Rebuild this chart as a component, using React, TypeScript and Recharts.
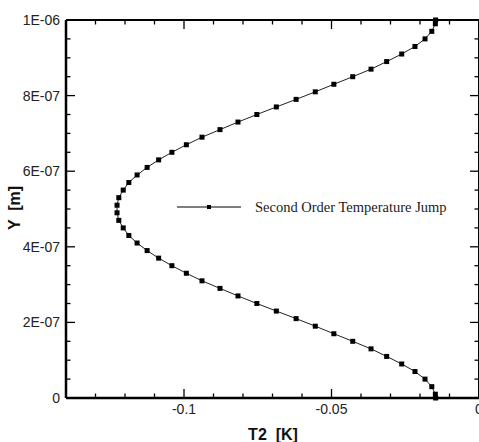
import React from "react";
import { ScatterChart, Scatter, XAxis, YAxis, ReferenceLine } from "recharts";

// wall-normal position [m] (cell centres plus both walls)
const yValues = [
  0, 1e-8, 3e-8, 5e-8, 7e-8, 9e-8, 1.1e-7, 1.3e-7, 1.5e-7, 1.7e-7, 1.9e-7,
  2.1e-7, 2.3e-7, 2.5e-7, 2.7e-7, 2.9e-7, 3.1e-7, 3.3e-7, 3.5e-7, 3.7e-7,
  3.9e-7, 4.1e-7, 4.3e-7, 4.5e-7, 4.7e-7, 4.9e-7, 5.1e-7, 5.3e-7, 5.5e-7,
  5.7e-7, 5.9e-7, 6.1e-7, 6.3e-7, 6.5e-7, 6.7e-7, 6.9e-7, 7.1e-7, 7.3e-7,
  7.5e-7, 7.7e-7, 7.9e-7, 8.1e-7, 8.3e-7, 8.5e-7, 8.7e-7, 8.9e-7, 9.1e-7,
  9.3e-7, 9.5e-7, 9.7e-7, 9.9e-7, 1e-6,
];

// T2 [K]
const t2Values = [
  -0.0147, -0.0148, -0.016, -0.0183, -0.0217, -0.0262, -0.0313, -0.0366,
  -0.0428, -0.0492, -0.0555, -0.062, -0.0687, -0.0753, -0.0817, -0.0878,
  -0.0939, -0.0992, -0.1041, -0.1086, -0.1125, -0.1159, -0.1187, -0.1206,
  -0.1221, -0.1227, -0.1227, -0.1221, -0.1206, -0.1187, -0.1159, -0.1125,
  -0.1086, -0.1041, -0.0992, -0.0939, -0.0878, -0.0817, -0.0753, -0.0687,
  -0.062, -0.0555, -0.0492, -0.0428, -0.0366, -0.0313, -0.0262, -0.0217,
  -0.0183, -0.016, -0.0148, -0.0147,
];

const xTicks = [
  -0.14, -0.13, -0.12, -0.11, -0.1, -0.09, -0.08, -0.07, -0.06, -0.05, -0.04,
  -0.03, -0.02, -0.01, 0,
];
const xMajorTicks = [-0.1, -0.05, 0];
const xTickLabels = ["-0.1", "-0.05", "0"];

const yTicks = [
  0, 5e-8, 1e-7, 1.5e-7, 2e-7, 2.5e-7, 3e-7, 3.5e-7, 4e-7, 4.5e-7, 5e-7,
  5.5e-7, 6e-7, 6.5e-7, 7e-7, 7.5e-7, 8e-7, 8.5e-7, 9e-7, 9.5e-7, 1e-6,
];
const yMajorTicks = [0, 2e-7, 4e-7, 6e-7, 8e-7, 1e-6];
const yTickLabels = ["0", "2E-07", "4E-07", "6E-07", "8E-07", "1E-06"];

const seriesName = "Second Order Temperature Jump";

const data = yValues.map((y, i) => ({ y, t2: t2Values[i] }));

// plot box follows from the margins and axis sizes below
const W = 479;
const H = 442;
const MARGIN = { top: 20, right: 0, bottom: 0, left: 0 };
const X_AXIS_H = 44;
const Y_AXIS_W = 66;
const PLOT_TOP = MARGIN.top;
const PLOT_RIGHT = W - MARGIN.right;

const majorIndex = (v: number, majors: number[], tol: number) =>
  majors.findIndex((m) => Math.abs(m - v) < tol);

const sans = "Arial, 'Liberation Sans', sans-serif";

const XTick = (props: any) => {
  const { x, y, payload } = props;
  const idx = majorIndex(payload.value, xMajorTicks, 1e-6);
  const len = idx >= 0 ? 9 : 4.5;
  return (
    <g>
      <path d={`M${x},${y}V${y - len}`} stroke="#000" strokeWidth={1.3} fill="none" />
      <path d={`M${x},${PLOT_TOP}V${PLOT_TOP + len}`} stroke="#000" strokeWidth={1.3} fill="none" />
      {idx >= 0 && (
        <text x={x} y={y + 15.5} textAnchor="middle" fontFamily={sans} fontSize={14} fill="#222">
          {xTickLabels[idx]}
        </text>
      )}
    </g>
  );
};

const YTick = (props: any) => {
  const { x, y, payload } = props;
  const idx = majorIndex(payload.value, yMajorTicks, 1e-10);
  const len = idx >= 0 ? 9 : 4.5;
  return (
    <g>
      <path d={`M${x},${y}H${x + len}`} stroke="#000" strokeWidth={1.3} fill="none" />
      <path d={`M${PLOT_RIGHT},${y}H${PLOT_RIGHT - len}`} stroke="#000" strokeWidth={1.3} fill="none" />
      {idx >= 0 && (
        <text x={x - 6} y={y + 5} textAnchor="end" fontFamily={sans} fontSize={14} fill="#222">
          {yTickLabels[idx]}
        </text>
      )}
    </g>
  );
};

const SquareDot = (props: any) => (
  <rect x={props.cx - 2.5} y={props.cy - 2.5} width={5} height={5} fill="#000" />
);

export default function App() {
  return (
    <div style={{ position: "absolute", left: 0, top: 0, width: W, height: H, background: "#fff" }}>
      <ScatterChart width={W} height={H} margin={MARGIN}>
        <XAxis
          type="number"
          dataKey="t2"
          domain={[-0.14, 0]}
          ticks={xTicks}
          interval={0}
          tick={XTick}
          tickLine={false}
          tickSize={0}
          tickMargin={0}
          height={X_AXIS_H}
          stroke="#000"
          strokeWidth={2.5}
          label={{
            value: "T2  [K]",
            content: () => (
              <text
                x={273}
                y={440}
                textAnchor="middle"
                fontFamily={sans}
                fontWeight="bold"
                fontSize={16}
                fill="#111"
                style={{ whiteSpace: "pre" }}
              >
                T2  [K]
              </text>
            ),
          }}
        />
        <YAxis
          type="number"
          dataKey="y"
          domain={[0, 1e-6]}
          ticks={yTicks}
          interval={0}
          tick={YTick}
          tickLine={false}
          tickSize={0}
          tickMargin={0}
          width={Y_AXIS_W}
          stroke="#000"
          strokeWidth={2.5}
          label={{
            value: "Y  [m]",
            content: () => (
              <text
                x={14}
                y={208}
                transform="rotate(-90 14 208)"
                textAnchor="middle"
                dominantBaseline="central"
                fontFamily={sans}
                fontWeight="bold"
                fontSize={16}
                fill="#111"
                style={{ whiteSpace: "pre" }}
              >
                Y  [m]
              </text>
            ),
          }}
        />
        <ReferenceLine y={1e-6} stroke="#000" strokeWidth={2} />
        <ReferenceLine x={0} stroke="#000" strokeWidth={2} />
        <Scatter
          name={seriesName}
          data={data}
          line={{ stroke: "#222", strokeWidth: 1 }}
          shape={SquareDot}
          isAnimationActive={false}
        />
      </ScatterChart>
      <svg
        width={W}
        height={H}
        style={{ position: "absolute", left: 0, top: 0, pointerEvents: "none" }}
      >
        <line x1={177} x2={241} y1={207} y2={207} stroke="#555" strokeWidth={1.3} />
        <rect x={207} y={205} width={4} height={4} fill="#000" />
        <text x={255} y={212} fontFamily="'Liberation Serif', 'Times New Roman', serif" fontSize={14.5} fill="#222">
          {seriesName}
        </text>
      </svg>
    </div>
  );
}
